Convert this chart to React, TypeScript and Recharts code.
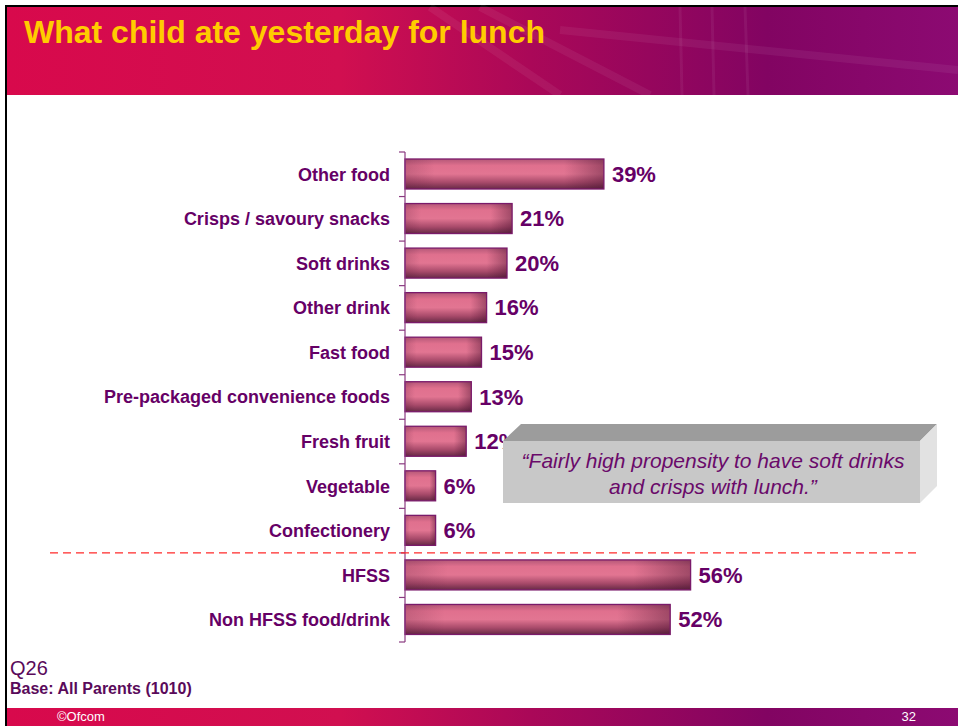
import React from 'react';
import { BarChart, Bar, XAxis, YAxis, LabelList } from 'recharts';

const categories = [
  'Other food',
  'Crisps / savoury snacks',
  'Soft drinks',
  'Other drink',
  'Fast food',
  'Pre-packaged convenience foods',
  'Fresh fruit',
  'Vegetable',
  'Confectionery',
  'HFSS',
  'Non HFSS food/drink',
];
const values = [39, 21, 20, 16, 15, 13, 12, 6, 6, 56, 52];
const dividerBefore = 'HFSS';
const title = 'What child ate yesterday for lunch';
const calloutLines = ['\u201CFairly high propensity to have soft drinks', 'and crisps with lunch.\u201D'];
const questionLabel = 'Q26';
const baseLabel = 'Base: All Parents (1010)';
const footerLeft = '\u00A9Ofcom';
const footerRight = '32';

const data = categories.map((c, i) => ({ name: c, value: values[i] }));

const W = 958;
const H = 726;
const M = { top: 152, right: 43, bottom: 84, left: 0 };
const PLOT_H = H - M.top - M.bottom;
const BAND = PLOT_H / categories.length;
const FONT = '"Liberation Sans", Arial, Helvetica, sans-serif';
const PURPLE = '#660066';

const CatTick = (props: any) => {
  const { x, y, payload, index } = props;
  const isLast = index === categories.length - 1;
  return (
    <g>
      <text
        x={x - 15}
        y={y}
        dy="0.36em"
        textAnchor="end"
        fill={PURPLE}
        fontFamily={FONT}
        fontWeight="bold"
        fontSize={18}
      >
        {payload.value}
      </text>
      <line x1={x - 6} x2={x} y1={y - BAND / 2} y2={y - BAND / 2} stroke="#8a3a80" strokeWidth={1.2} />
      {isLast && (
        <line x1={x - 6} x2={x} y1={y + BAND / 2} y2={y + BAND / 2} stroke="#8a3a80" strokeWidth={1.2} />
      )}
      {payload.value === dividerBefore && (
        <line
          x1={50}
          x2={918}
          y1={y - BAND / 2}
          y2={y - BAND / 2}
          stroke="#ff2a2a"
          strokeWidth={1.3}
          strokeDasharray="8 5"
        />
      )}
    </g>
  );
};

const BarShape = (props: any) => {
  const { x, y, width, height } = props;
  if (!width || width <= 0) return null;
  return (
    <g>
      <rect x={x} y={y} width={width} height={height} fill="url(#barV)" />
      <rect x={x} y={y} width={width} height={height} fill="url(#barH)" />
      <rect x={x} y={y} width={width} height={height} fill="none" stroke="#7a1a6a" strokeWidth={1.3} />
    </g>
  );
};

export default function App() {
  return (
    <div style={{ position: 'absolute', left: 0, top: 0, width: W, height: H, background: '#fff', overflow: 'hidden' }}>
      <svg width={W} height={H} style={{ position: 'absolute', left: 0, top: 0 }}>
        <defs>
          <linearGradient id="hdr" x1="0" y1="0" x2="1" y2="0">
            <stop offset="0" stopColor="#d8094c" />
            <stop offset="0.35" stopColor="#d10f50" />
            <stop offset="0.55" stopColor="#aa0858" />
            <stop offset="0.8" stopColor="#820462" />
            <stop offset="1" stopColor="#8c0a72" />
          </linearGradient>
          <linearGradient id="barV" x1="0" y1="0" x2="0" y2="1">
            <stop offset="0" stopColor="#b55878" />
            <stop offset="0.22" stopColor="#e0708e" />
            <stop offset="0.5" stopColor="#e27592" />
            <stop offset="0.78" stopColor="#a84a6a" />
            <stop offset="1" stopColor="#682a46" />
          </linearGradient>
          <linearGradient id="barH" x1="0" y1="0" x2="1" y2="0">
            <stop offset="0" stopColor="#3c0a28" stopOpacity="0.18" />
            <stop offset="0.15" stopColor="#3c0a28" stopOpacity="0" />
            <stop offset="0.8" stopColor="#3c0a28" stopOpacity="0" />
            <stop offset="1" stopColor="#3c0a28" stopOpacity="0.4" />
          </linearGradient>
        </defs>
        <rect x={5} y={5} width={W - 5} height={2} fill="#000" />
        <rect x={5} y={5} width={2} height={H - 5} fill="#000" />
        <rect x={7} y={7} width={W - 7} height={88} fill="url(#hdr)" />
        <g stroke="#ffffff" strokeOpacity={0.06} strokeWidth={8}>
          <line x1={430} y1={7} x2={560} y2={95} />
          <line x1={480} y1={7} x2={650} y2={95} />
          <line x1={560} y1={30} x2={958} y2={70} />
          <line x1={680} y1={7} x2={682} y2={95} strokeWidth={3} />
          <line x1={712} y1={7} x2={714} y2={95} strokeWidth={3} />
          <line x1={745} y1={7} x2={748} y2={95} strokeWidth={3} />
        </g>
        <text x={24} y={43} fill="#ffcc00" fontFamily={FONT} fontWeight="bold" fontSize={32}>
          {title}
        </text>
        <rect x={7} y={708} width={W - 7} height={18} fill="url(#hdr)" />
        <text x={57} y={721} fill="#ffffff" fontFamily={FONT} fontSize={13}>
          {footerLeft}
        </text>
        <text x={916} y={721} textAnchor="end" fill="#ffffff" fontFamily={FONT} fontSize={13}>
          {footerRight}
        </text>
        <text x={10} y={675} fill="#5a0a5a" fontFamily={FONT} fontSize={20}>
          {questionLabel}
        </text>
        <text x={10} y={694} fill="#5a0a5a" fontFamily={FONT} fontWeight="bold" fontSize={16}>
          {baseLabel}
        </text>
      </svg>
      <div style={{ position: 'absolute', left: 0, top: 0 }}>
        <BarChart width={W} height={H} data={data} layout="vertical" margin={M}>
          <XAxis type="number" domain={[0, 100]} hide />
          <YAxis
            type="category"
            dataKey="name"
            width={405}
            axisLine={{ stroke: '#8a3a80', strokeWidth: 1.2 }}
            tickLine={false}
            tickSize={0}
            tickMargin={0}
            tick={<CatTick />}
            interval={0}
          />
          <Bar dataKey="value" barSize={30} shape={<BarShape />} isAnimationActive={false}>
            <LabelList
              dataKey="value"
              position="right"
              offset={8}
              formatter={(v: any) => `${v}%`}
              fill={PURPLE}
              fontFamily={FONT}
              fontWeight="bold"
              fontSize={22}
            />
          </Bar>
        </BarChart>
      </div>
      <svg width={W} height={H} style={{ position: 'absolute', left: 0, top: 0, pointerEvents: 'none' }}>
        <polygon points="503,441 521,424 937,424 920,441" fill="#9c9c9c" />
        <polygon points="920,441 937,424 937,486 920,503" fill="#e2e2e2" />
        <rect x={503} y={441} width={417} height={62} fill="#c8c8c8" />
        <text x={713} y={468} textAnchor="middle" fill="#6a0a6a" fontFamily={FONT} fontStyle="italic" fontSize={21}>
          {calloutLines[0]}
        </text>
        <text x={713} y={494} textAnchor="middle" fill="#6a0a6a" fontFamily={FONT} fontStyle="italic" fontSize={21}>
          {calloutLines[1]}
        </text>
      </svg>
    </div>
  );
}
